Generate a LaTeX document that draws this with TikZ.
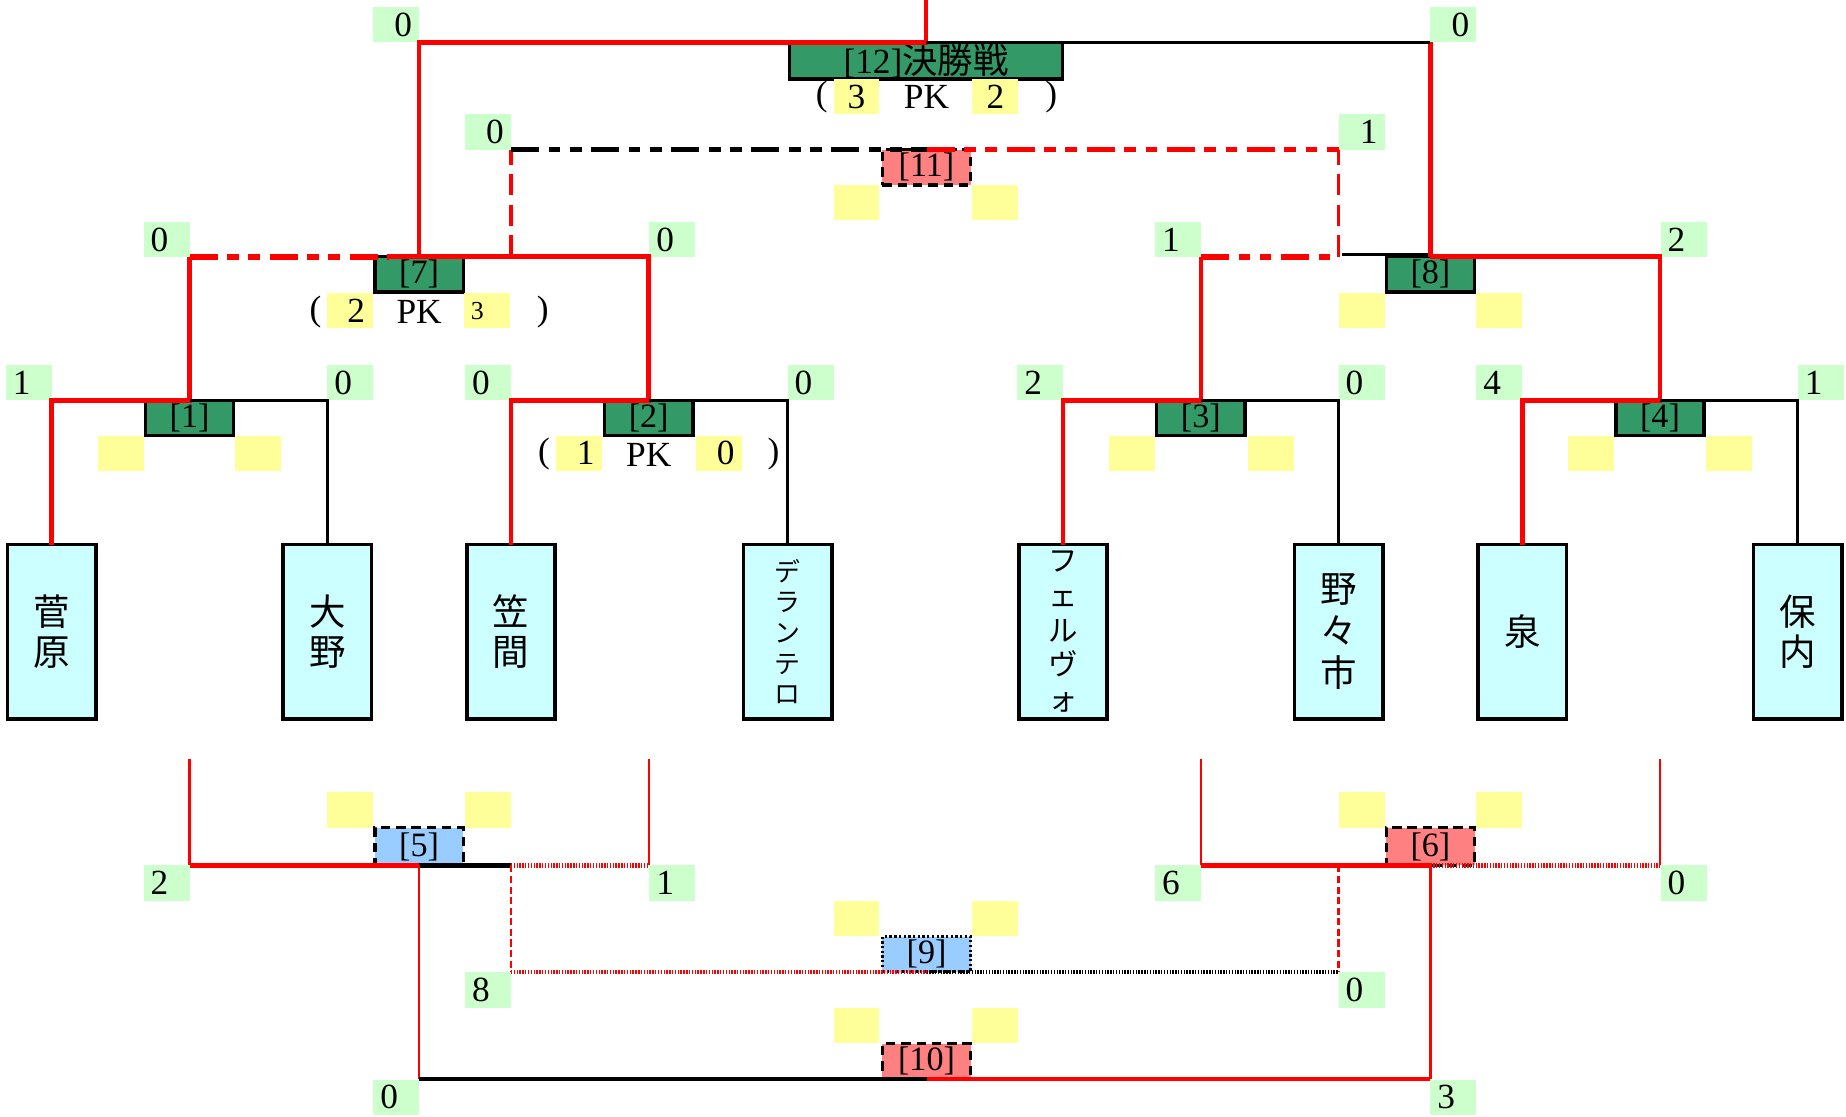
\documentclass[tikz,border=0pt]{standalone}
\usepackage{fontspec}
\setmainfont{Liberation Serif}
\newfontfamily\jp{Noto Sans CJK JP}
\definecolor{teamc}{HTML}{CCFFFF}
\definecolor{mgreen}{HTML}{339966}
\definecolor{msalmon}{HTML}{FF8080}
\definecolor{mblue}{HTML}{99CCFF}
\definecolor{sgreen}{HTML}{CCFFCC}
\definecolor{pky}{HTML}{FFFF99}
\newcommand\scorebox[5]{\node[sc,label={[num,xshift=#4]center:#5}] (#1) at (#2,#3) {};}
\newcommand\pkbox[5]{\node[pk,label={[num,xshift=#4]center:#5}] (#1) at (#2,#3) {};}
\begin{document}
\begin{tikzpicture}[x=0.5pt,y=-0.5pt,
 every node/.style={outer sep=0pt},
 team/.style={draw, line width=1.5pt, fill=teamc, minimum width=37.5pt, minimum height=74pt, inner sep=0pt, align=center, font=\jp\fontsize{15.5}{17}\selectfont},
 mbox/.style={draw, line width=1.5pt, fill=mgreen, minimum width=37.5pt, minimum height=15pt, inner sep=0pt, font=\fontsize{14.5}{14.5}\selectfont},
 dbox/.style={mbox, dash pattern=on 4pt off 2.5pt},
 obox/.style={mbox, line width=1.2pt, dash pattern=on 1pt off 1pt},
 sc/.style={fill=sgreen, minimum width=19.5pt, minimum height=15pt, inner sep=0pt},
 pk/.style={fill=pky, minimum width=19.5pt, minimum height=15pt, inner sep=0pt},
 num/.style={font=\fontsize{15}{15}\selectfont, inner sep=0pt},
 txt/.style={font=\fontsize{15}{15}\selectfont, inner sep=0pt},
 win/.style={draw=red, line width=2pt},
 lose/.style={draw=black, line width=1.3pt},
 loseb/.style={draw=black, line width=2pt},
 rthin/.style={draw=red, line width=1pt},
 rdash/.style={draw=red, line width=1.5pt, dash pattern=on 9pt off 4pt},
 rdasht/.style={draw=red, line width=1pt, dash pattern=on 3pt off 1.5pt},
 rddd/.style={draw=red, line width=2.5pt, dash pattern=on 12pt off 4pt on 5pt off 4pt on 5pt off 4pt},
 bddd/.style={rddd, draw=black},
 rdot/.style={draw=red, line width=2pt, dash pattern=on 0.6pt off 0.6pt},
 bdot/.style={rdot, draw=black},
]
\useasboundingbox (0,0) rectangle (1568,948);

% ---------- teams ----------
\node[team] (t1) at (44,536.5) {菅\\原};
\node[team] (t2) at (278,536.5) {大\\野};
\node[team] (t3) at (434,536.5) {笠\\間};
\node[team, font=\jp\fontsize{11}{13}\selectfont] (t4) at (669,536.5) {デ\\ラ\\ン\\テ\\ロ};
\node[team, font=\jp\fontsize{12.5}{14.7}\selectfont] (t5) at (903,536.5) {フ\\ェ\\ル\\ヴ\\ォ};
\node[team, font=\jp\fontsize{15.5}{18}\selectfont] (t6) at (1137,536.5) {野\\々\\市};
\node[team] (t7) at (1293,536.5) {泉};
\node[team] (t8) at (1527,536.5) {保\\内};

% ---------- match boxes ----------
\node[mbox] (m1) at (161,355) {[1]};
\node[mbox] (m2) at (551,355) {[2]};
\node[mbox] (m3) at (1020,355) {[3]};
\node[mbox] (m4) at (1410,355) {[4]};
\node[mbox] (m7) at (356,233) {[7]};
\node[mbox] (m8) at (1215,233) {[8]};
\node[mbox, minimum width=116pt, minimum height=15.5pt, font=\fontsize{15}{15}\selectfont] (m12) at (786.5,51.5) {[12]{\jp 決勝戦}};
\node[dbox, fill=msalmon] (m11) at (787,142) {[11]};
\node[dbox, fill=mblue, minimum height=16pt] (m5) at (356,719) {[5]};
\node[dbox, fill=msalmon, minimum height=16pt] (m6) at (1215,719) {[6]};
\node[obox, fill=mblue] (m9) at (787,810.5) {[9]};
\node[dbox, fill=msalmon] (m10) at (787,901.5) {[10]};

% ---------- score labels ----------
\scorebox{s1}{24.5}{325}{-3pt}{1}
\scorebox{s2}{297.5}{325}{-3pt}{0}
\scorebox{s3}{414.5}{325}{-3pt}{0}
\scorebox{s4}{688.5}{325}{-3pt}{0}
\scorebox{s5}{883.5}{325}{-3pt}{2}
\scorebox{s6}{1156.5}{325}{-3pt}{0}
\scorebox{s7}{1273.5}{325}{-3pt}{4}
\scorebox{s8}{1546.5}{325}{-3pt}{1}
\scorebox{s9}{141.5}{203.5}{-3pt}{0}
\scorebox{s10}{571}{203.5}{-3pt}{0}
\scorebox{s11}{1000.5}{203.5}{-3pt}{1}
\scorebox{s12}{1430}{203.5}{-3pt}{2}
\scorebox{s13}{336.5}{21}{3pt}{0}
\scorebox{s14}{1234.5}{21}{3pt}{0}
\scorebox{s15}{414.5}{112}{3pt}{0}
\scorebox{s16}{1156.5}{112}{3pt}{1}
\scorebox{s17}{141.5}{750}{-3pt}{2}
\scorebox{s18}{571}{750}{-3pt}{1}
\scorebox{s19}{1000.5}{750}{-3pt}{6}
\scorebox{s20}{1430}{750}{-3pt}{0}
\scorebox{s21}{414.5}{841}{-3pt}{8}
\scorebox{s22}{1156.5}{841}{-3pt}{0}
\scorebox{s23}{336.5}{932}{-3pt}{0}
\scorebox{s24}{1234.5}{932}{-3pt}{3}

% ---------- PK boxes ----------
\pkbox{p1a}{102.5}{385}{0pt}{}
\pkbox{p1b}{219.5}{385}{0pt}{}
\pkbox{p2a}{491.5}{385}{3pt}{1}
\pkbox{p2b}{610.5}{385}{3pt}{0}
\node[txt] (o2) at (462,386) {(};
\node[txt] (k2) at (551,386) {PK};
\node[txt] (c2) at (657,386) {)};
\pkbox{p3a}{961.5}{385}{0pt}{}
\pkbox{p3b}{1079.5}{385}{0pt}{}
\pkbox{p4a}{1351.5}{385}{0pt}{}
\pkbox{p4b}{1468.5}{385}{0pt}{}
\pkbox{p7a}{297.5}{264}{2.5pt}{2}
\node[pk, label={[num, font=\fontsize{11}{11}\selectfont, xshift=-4pt]center:3}] (p7b) at (413.5,264) {};
\node[txt] (o7) at (268,265) {(};
\node[txt] (k7) at (356,265) {PK};
\node[txt] (c7) at (461,265) {)};
\pkbox{p8a}{1156.5}{263.5}{0pt}{}
\pkbox{p8b}{1273.5}{263.5}{0pt}{}
\pkbox{p12a}{727.5}{82}{0pt}{3}
\pkbox{p12b}{845.5}{82}{0pt}{2}
\node[txt] (o12) at (698,82) {(};
\node[txt] (k12) at (787,82) {PK};
\node[txt] (c12) at (893,82) {)};
\pkbox{p11a}{727.5}{172}{0pt}{}
\pkbox{p11b}{845.5}{172}{0pt}{}
\pkbox{p5a}{297.5}{688}{0pt}{}
\pkbox{p5b}{414.5}{688}{0pt}{}
\pkbox{p6a}{1156.5}{688}{0pt}{}
\pkbox{p6b}{1273.5}{688}{0pt}{}
\pkbox{p9a}{727.5}{780}{0pt}{}
\pkbox{p9b}{845.5}{780}{0pt}{}
\pkbox{p10a}{727.5}{871}{0pt}{}
\pkbox{p10b}{845.5}{871}{0pt}{}

% ---------- helper coordinates ----------
\coordinate (j7) at (330,218);
\coordinate (k7) at (434,218);
\coordinate (k11l) at (434,127);
\coordinate (k11r) at (1137,127);
\coordinate (k8) at (1137,218);
\coordinate (k8b) at (1140,216);
\coordinate (k8c) at (1215,216);
\coordinate (champ) at (786.5,0);
\coordinate (u5l) at (161,645);
\coordinate (u5r) at (551,645);
\coordinate (u6l) at (1020,645);
\coordinate (u6r) at (1410,645);
\coordinate (k5) at (434,735);
\coordinate (k6) at (1137,735);

% ---------- round 1 ----------
\draw[win] (t1.north) |- (m1.north) -- (m1.north |- m7.north);
\draw[lose] (m1.north) -| (t2.north);
\draw[win] (t3.north) |- (m2.north) -- (m2.north |- m7.north) -- (j7);
\draw[lose] (m2.north) -| (t4.north);
\draw[win] (t5.north) |- (m3.north) -- (m3.north |- m8.north);
\draw[lose] (m3.north) -| (t6.north);
\draw[win] (t7.north) |- (m4.north) -- (m4.north |- m8.north) -- (m8.north);
\draw[lose] (m4.north) -| (t8.north);

% ---------- round 2 ----------
\draw[rddd] (m1.north |- m7.north) -- (j7);
\draw[rddd] (m3.north |- m8.north) -- (k8);
\draw[lose] (k8b) -- (k8c);
\draw[win] (m7.north) -- (m7.north |- m12.north) -- (m12.north) -- (champ);
\draw[win] (m8.north) -- (m8.north |- m12.north);
\draw[lose] (m12.north) -- (m8.north |- m12.north);

% ---------- match 11 ----------
\draw[rdash] (k7) -- (k11l);
\draw[rdash] (k8) -- (k11r);
\draw[bddd] (k11l) -- (m11.north);
\draw[rddd] (m11.north) -- (k11r);

% ---------- consolation ----------
\draw[rthin] (u5l) -- (u5l |- m5.south);
\draw[rthin] (u5r) -- (u5r |- m5.south);
\draw[rthin] (u6l) -- (u6l |- m6.south);
\draw[rthin] (u6r) -- (u6r |- m6.south);
\draw[win] (u5l |- m5.south) -- (m5.south);
\draw[loseb] (m5.south) -- (k5);
\draw[rdot] (k5) -- (u5r |- m5.south);
\draw[win] (u6l |- m6.south) -- (m6.south);
\draw[rdot] (m6.south) -- (u6r |- m6.south);
\draw[rthin] (m5.south) -- (m5.south |- m10.south);
\draw[rthin] (m6.south) -- (m6.south |- m10.south);
\draw[rdasht] (k5) -- (k5 |- m9.south);
\draw[rdasht] (k6) -- (k6 |- m9.south);
\draw[rdot] (k5 |- m9.south) -- (m9.south);
\draw[bdot] (m9.south) -- (k6 |- m9.south);
\draw[loseb] (m5.south |- m10.south) -- (m10.south);
\draw[win] (m10.south) -- (m6.south |- m10.south);
\end{tikzpicture}
\end{document}
